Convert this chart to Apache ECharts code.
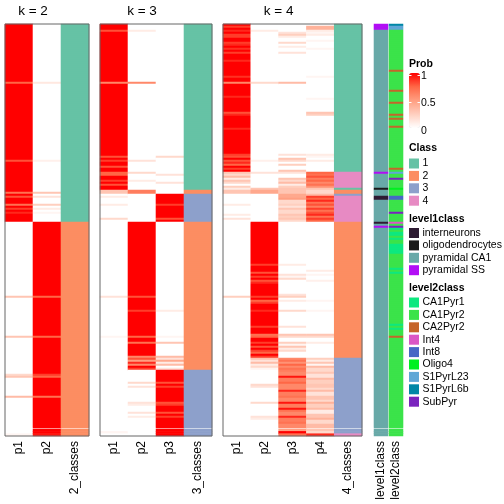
<!DOCTYPE html>
<html><head><meta charset="utf-8">
<script src="https://cdn.jsdelivr.net/npm/echarts@6/dist/echarts.min.js"></script>
<style>html,body{margin:0;padding:0;background:#fff}#c{width:504px;height:504px}</style>
</head><body><div id="c"></div>
<script>
// ---- data: each column is a list of [startRow, value] breakpoints (value holds until next breakpoint)
// rows 0..201 = main block, rows 202..204 = small block below the split
const N_MAIN = 202, N_TAIL = 3, N_ALL = 205;

const k2_cols = ['p1','p2','2_classes'];
const k2_p1 = [[0,1],[29,0.75],[30,1],[68,0.8],[69,1],[84,0.7],[85,1],[86,0.8],[87,1],[90,0.7],[91,1],[92,0.85],[93,1],[94,0.9],[95,1],[99,0],[136,0.3],[137,0],[156,0.3],[157,0],[175,0.2],[176,0.3],[177,0],[186,0.35],[187,0],[204,0.05]];
const k2_p2 = [[0,0],[29,0.12],[30,0],[68,0.08],[69,0],[84,0.3],[85,0],[86,0.15],[87,0],[90,0.25],[91,0],[92,0.1],[93,0],[94,0.05],[95,0],[99,1],[136,0.75],[137,1],[156,0.75],[157,1],[175,0.85],[176,0.75],[177,1],[186,0.7],[187,1],[204,0.95]];
const k2_class = [[0,1],[99,2]];

const k3_cols = ['p1','p2','p3','3_classes'];
const k3_p1 = [[0,1],[3,0.8],[4,1],[29,0.6],[30,1],[66,0.8],[67,1],[68,0.85],[69,1],[71,0.8],[72,1],[74,0.75],[76,1],[78,0.85],[79,1],[80,0.8],[81,1],[83,0.3],[85,0],[86,0.1],[87,0],[90,0.1],[91,0],[97,0.2],[98,0],[136,0.15],[137,0],[156,0.05],[157,0],[203,0.05],[204,0]];
const k3_p2 = [[0,0],[3,0.1],[4,0],[29,0.6],[30,0],[68,0.15],[69,0],[74,0.2],[75,0],[78,0.1],[79,0],[83,0.65],[85,0],[99,1],[136,0.8],[137,1],[143,0.85],[144,1],[156,0.75],[157,1],[159,0.7],[160,1],[166,0.6],[167,0.8],[168,0.5],[169,0.9],[170,0.6],[171,1],[172,0.85],[173,0],[179,0.2],[180,0],[181,0.15],[182,0],[189,0.15],[190,0.1],[191,0],[194,0.15],[195,0],[196,0.1],[197,0]];
const k3_p3 = [[0,0],[66,0.2],[67,0],[75,0.15],[76,0],[79,0.15],[80,0],[85,1],[90,0.85],[91,1],[97,0.8],[98,1],[99,0],[143,0.1],[144,0],[156,0.05],[157,0],[159,0.3],[160,0],[166,0.35],[167,0.15],[168,0.45],[169,0.1],[170,0.35],[171,0],[172,0.15],[173,1],[179,0.8],[180,1],[181,0.85],[182,1],[189,0.8],[190,0.85],[191,1],[194,0.8],[195,1],[196,0.85],[197,1]];
const k3_class = [[0,1],[83,2],[85,3],[99,2],[173,3]];

const k4_cols = ['p1','p2','p3','p4','4_classes'];
const k4_p1 = [[0,1],[1,0.85],[2,1],[3,0.9],[4,1],[5,0.85],[7,1],[9,0.85],[10,0.9],[11,1],[12,0.88],[13,1],[14,0.85],[15,1],[18,0.9],[19,1],[26,0.88],[27,1],[29,0.6],[30,1],[36,0.9],[37,1],[44,0.8],[45,0.9],[46,1],[52,0.9],[53,1],[65,0.85],[66,0.8],[67,1],[68,0.8],[69,0.9],[70,0.75],[71,1],[72,0.85],[73,1],[74,0.3],[75,0.2],[76,0.35],[77,0.1],[78,0.3],[79,0.2],[80,0],[81,0.25],[82,0.1],[83,0.3],[85,0],[90,0.1],[91,0],[95,0.1],[96,0],[97,0.15],[98,0],[136,0.25],[137,0]];
const k4_p2 = [[0,0],[3,0.1],[4,0],[29,0.2],[30,0],[68,0.08],[69,0],[74,0.15],[75,0],[82,0.3],[83,0.45],[85,0],[99,1],[120,0.85],[121,1],[124,0.8],[125,1],[126,0.85],[127,1],[128,0.8],[129,0.9],[130,1],[136,0.85],[137,1],[138,0.75],[139,0.85],[140,1],[143,0.9],[144,1],[151,0.85],[152,1],[155,0.7],[156,0.75],[157,1],[159,0.85],[160,1],[161,0.8],[162,1],[163,0.85],[164,0.75],[165,1],[166,0.85],[167,0.3],[168,0.15],[169,0.35],[170,0.1],[171,0.2],[172,0.05],[173,0],[180,0.2],[181,0.15],[182,0],[189,0.2],[190,0],[196,0.15],[197,0.1],[198,0]];
const k4_p3 = [[0,0],[4,0.15],[5,0.25],[6,0.1],[7,0],[9,0.2],[10,0],[11,0.1],[12,0],[14,0.15],[15,0],[29,0.35],[30,0],[65,0.15],[66,0],[67,0.3],[68,0.2],[69,0],[70,0.25],[71,0],[73,0.3],[74,0.15],[75,0],[77,0.3],[78,0.2],[79,0.35],[80,0.1],[81,0.25],[82,0.3],[85,0.45],[87,0.5],[88,0.2],[90,0.25],[91,0.15],[92,0.3],[93,0.2],[95,0.3],[96,0.25],[97,0.3],[98,0.2],[99,0],[120,0.1],[121,0],[125,0.15],[126,0.05],[127,0.2],[128,0],[135,0.15],[136,0.25],[137,0],[138,0.1],[139,0],[143,0.2],[144,0],[151,0.15],[152,0],[155,0.3],[156,0.2],[157,0],[159,0.25],[160,0.05],[161,0.3],[162,0.1],[163,0.2],[164,0],[167,0.6],[168,0.7],[169,0.55],[170,0.75],[171,0.6],[172,0.7],[173,0.65],[174,0.6],[176,0.95],[177,0.65],[179,0.75],[180,0.6],[183,0.9],[184,0.65],[186,0.7],[187,0.6],[189,0.95],[190,0.65],[192,0.95],[193,0.7],[194,0.6],[196,0.9],[197,0.65],[199,0.7],[200,0.6],[202,0.5],[203,1],[204,0.7]];
const k4_p4 = [[0,0],[1,0.4],[3,0.1],[4,0.05],[5,0.1],[6,0],[8,0.05],[9,0],[12,0.05],[13,0],[26,0.05],[27,0],[37,0.05],[38,0],[44,0.3],[45,0.25],[46,0],[65,0.1],[66,0.05],[67,0],[68,0.1],[69,0],[74,0.75],[75,0.7],[76,0.8],[77,0.65],[78,0.75],[79,0.6],[80,0.7],[81,0.55],[82,0.3],[83,0.2],[85,0.35],[86,0.85],[87,0.75],[88,0.9],[89,0.7],[90,0.8],[91,0.65],[92,0.85],[93,0.7],[94,0.8],[95,0.9],[96,0.7],[97,0.85],[98,0.75],[99,0],[123,0.1],[124,0],[125,0.05],[126,0],[128,0.08],[129,0],[138,0.05],[139,0],[143,0.05],[144,0],[155,0.3],[156,0.2],[157,0],[159,0.1],[160,0],[167,0.25],[168,0.1],[169,0.3],[170,0.05],[171,0.35],[172,0.2],[174,0.3],[175,0.15],[177,0.35],[178,0.25],[180,0.3],[182,0.2],[183,0.35],[184,0.15],[186,0.3],[188,0.2],[189,0.4],[190,0.25],[192,0.35],[193,0.1],[195,0.3],[197,0.4],[198,0.2],[200,0.35],[202,0.3],[203,0.2],[204,0.9]];
const k4_class = [[0,1],[74,4],[82,1],[83,2],[85,3],[86,4],[99,2],[167,3],[204,4]];

// annotations
const level1_names = ['interneurons','oligodendrocytes','pyramidal CA1','pyramidal SS'];
const level1_colors = ['#2E1B33','#1A1A1A','#68A9A8','#B20EF5'];
const level1 = [[0,3],[3,2],[74,3],[75,2],[82,1],[83,2],[86,0],[88,2],[99,0],[100,2],[101,3],[102,2]];
const level2_names = ['CA1Pyr1','CA1Pyr2','CA2Pyr2','Int4','Int8','Oligo4','S1PyrL23','S1PyrL6b','SubPyr'];
const level2_colors = ['#0DE87F','#3BE34A','#C5652B','#DB57C5','#4768C5','#00F020','#5FA7D6','#0087A6','#7A24BE'];
const level2 = [[0,7],[1,6],[3,1],[23,2],[24,1],[33,2],[34,1],[39,2],[40,1],[45,2],[46,1],[47,2],[48,1],[51,2],[52,1],[72,2],[73,1],[74,6],[75,1],[77,8],[78,1],[82,5],[83,1],[86,4],[88,1],[94,8],[95,1],[99,3],[100,1],[101,8],[102,0],[103,1],[104,0],[106,1],[107,0],[108,1],[110,0],[115,1],[122,0],[123,1],[124,0],[125,1],[150,0],[151,1],[152,0],[153,1],[156,2],[157,1]];

const class_labels = ['1','2','3','4'];
const class_colors = ['#66C2A5','#FC8D62','#8DA0CB','#E78AC3'];
const prob_ticks = ['1','0.5','0'];

// ---- build
function expand(bp){const out=[];let j=0;for(let r=0;r<N_ALL;r++){while(j+1<bp.length&&bp[j+1][0]<=r)j++;out.push(bp[j][1]);}return out;}

const FONT = 'Liberation Sans';
const MAIN_TOP = 24, MAIN_H = 404, TAIL_TOP = 429, TAIL_H = 7;
const panels = [
  {title:'k = 2', cols:k2_cols, probs:[k2_p1,k2_p2], cls:k2_class, left:5, width:84},
  {title:'k = 3', cols:k3_cols, probs:[k3_p1,k3_p2,k3_p3], cls:k3_class, left:100, width:112},
  {title:'k = 4', cols:k4_cols, probs:[k4_p1,k4_p2,k4_p3,k4_p4], cls:k4_class, left:223, width:139}
];
const annos = [
  {name:'level1class', data:level1, left:374, width:14},
  {name:'level2class', data:level2, left:389, width:14}
];

const grid=[], xAxis=[], yAxis=[], series=[], graphic=[];
const probIdx=[], classIdx=[], l1Idx=[], l2Idx=[];
const rowsMain = Array.from({length:N_MAIN},(_,i)=>String(i));
const rowsTail = Array.from({length:N_TAIL},(_,i)=>String(i));

function addGridPair(left,width,cols){
  const gi = grid.length;
  grid.push({left:left,top:MAIN_TOP,width:width,height:MAIN_H,outerBoundsMode:'none'});
  grid.push({left:left,top:TAIL_TOP,width:width,height:TAIL_H,outerBoundsMode:'none'});
  xAxis.push({type:'category',gridIndex:gi,data:cols,show:false});
  xAxis.push({type:'category',gridIndex:gi+1,data:cols,axisLine:{show:false},axisTick:{show:false},
    axisLabel:{rotate:90,margin:5,fontSize:12,color:'#000',fontFamily:FONT,interval:0}});
  yAxis.push({type:'category',gridIndex:gi,data:rowsMain,inverse:true,show:false});
  yAxis.push({type:'category',gridIndex:gi+1,data:rowsTail,inverse:true,show:false});
  return gi;
}
function addColumns(gi, colArrays, colOffset, idxList){
  const main=[], tail=[];
  colArrays.forEach((bp,c)=>{
    expand(bp).forEach((v,r)=>{
      if(r<N_MAIN) main.push([c+colOffset,r,v]); else tail.push([c+colOffset,r-N_MAIN,v]);
    });
  });
  [[main,gi],[tail,gi+1]].forEach(([d,g])=>{
    idxList.push(series.length);
    series.push({type:'heatmap',xAxisIndex:g,yAxisIndex:g,data:d,itemStyle:{borderWidth:0},emphasis:{disabled:true},progressive:0,animation:false});
  });
}

panels.forEach(p=>{
  const gi = addGridPair(p.left,p.width,p.cols);
  addColumns(gi,p.probs,0,probIdx);
  addColumns(gi,[p.cls],p.probs.length,classIdx);
  const colW = p.width/p.cols.length;
  graphic.push({type:'text',x:p.left+colW*p.probs.length/2,y:11,
    style:{text:p.title,fontSize:13.5,fontFamily:FONT,fill:'#000',align:'center',verticalAlign:'middle'}});
  graphic.push({type:'rect',shape:{x:p.left,y:MAIN_TOP,width:p.width,height:TAIL_TOP+TAIL_H-MAIN_TOP},
    style:{fill:'none',stroke:'#666',lineWidth:1},z:100,silent:true});
});
annos.forEach((a,i)=>{
  const gi = addGridPair(a.left,a.width,[a.name]);
  addColumns(gi,[a.data],0,i===0?l1Idx:l2Idx);
});

// legend titles and prob labels
const LX = 409;
[['Prob',64],['Class',148],['level1class',219],['level2class',288]].forEach(([t,y])=>{
  graphic.push({type:'text',x:LX,y:y,style:{text:t,fontSize:10.5,fontWeight:'bold',fontFamily:FONT,fill:'#000',verticalAlign:'middle'}});
});
[76,103,131].forEach((y,i)=>{
  graphic.push({type:'text',x:421,y:y,style:{text:prob_ticks[i],fontSize:10.5,fontFamily:FONT,fill:'#000',verticalAlign:'middle'}});
});
// small white tick marks inside the colour bar
[75.5,102.5].forEach(y=>{
  graphic.push({type:'line',shape:{x1:LX,y1:y,x2:LX+2.5,y2:y},style:{stroke:'#fff',lineWidth:1},z:200,silent:true});
  graphic.push({type:'line',shape:{x1:LX+8.5,y1:y,x2:LX+11,y2:y},style:{stroke:'#fff',lineWidth:1},z:200,silent:true});
});

const pieceStyle = {left:LX,align:'left',itemWidth:10,itemHeight:10,itemGap:1.4,itemSymbol:'rect',padding:0,textGap:3.5,
  textStyle:{fontSize:10.5,color:'#000',fontFamily:FONT},inverse:true,hoverLink:false};

const option = {
  animation:false,
  grid, xAxis, yAxis, series, graphic,
  visualMap:[
    {type:'continuous',min:0,max:1,seriesIndex:probIdx,left:LX,top:73,itemWidth:11,itemHeight:55,padding:0,
     calculable:false,hoverLink:false,inRange:{color:['#FFFFFF','#FFCFBF','#FF9E81','#FF6746','#FF0000']}},
    Object.assign({type:'piecewise',seriesIndex:classIdx,top:158,
      pieces:class_labels.map((l,i)=>({value:i+1,label:l,color:class_colors[i]}))},pieceStyle),
    Object.assign({type:'piecewise',seriesIndex:l1Idx,top:227.5,
      pieces:level1_names.map((l,i)=>({value:i,label:l,color:level1_colors[i]}))},pieceStyle),
    Object.assign({type:'piecewise',seriesIndex:l2Idx,top:297,
      pieces:level2_names.map((l,i)=>({value:i,label:l,color:level2_colors[i]}))},pieceStyle)
  ]
};
const chart = echarts.init(document.getElementById('c'),null,{renderer:'canvas'});
chart.setOption(option);
</script></body></html>
